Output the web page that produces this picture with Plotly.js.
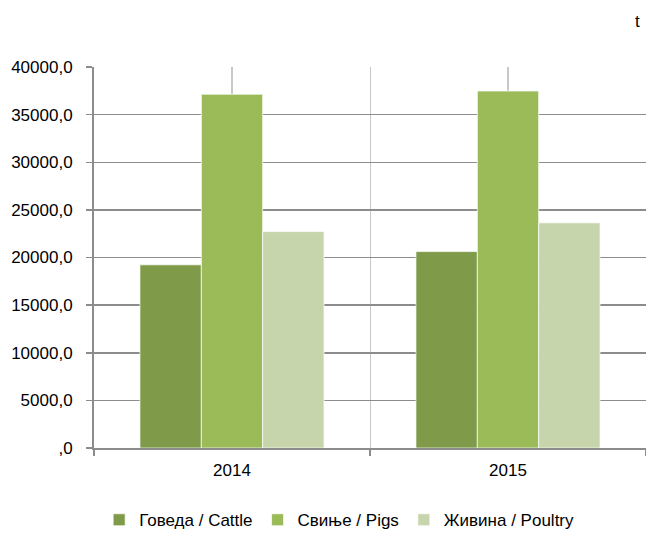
<!DOCTYPE html>
<html>
<head>
<meta charset="utf-8">
<script src="https://cdn.plot.ly/plotly-3.0.1.min.js"></script>
<style>html,body{margin:0;padding:0;background:#fff;}#chart{width:646px;height:533px;}</style>
</head>
<body>
<div id="chart"></div>
<script>
var years = ["2014", "2015"];
var cattle = [19230, 20620];
var pigs = [37140, 37480];
var poultry = [22720, 23640];
var seriesNames = ["Говеда / Cattle", "Свиње / Pigs", "Живина / Poultry"];
var yTickVals = [0, 5000, 10000, 15000, 20000, 25000, 30000, 35000, 40000];
var yTickText = [",0", "5000,0", "10000,0", "15000,0", "20000,0", "25000,0", "30000,0", "35000,0", "40000,0"];
var unitLabel = "t";

var colors = ["#7f9a48", "#9bbb59", "#c6d5ab"];
var seriesVals = [cattle, pigs, poultry];
var traces = seriesVals.map(function (v, i) {
  return {
    type: "bar", x: years, y: v, name: seriesNames[i],
    marker: {color: colors[i], line: {color: "rgba(255,255,255,0.7)", width: 1}},
    hoverinfo: "y"
  };
});
// invisible trace to anchor centre gridlines axis
traces.push({type: "bar", x: years, y: [0, 0], xaxis: "x2", yaxis: "y", showlegend: false, hoverinfo: "skip", marker: {color: "rgba(0,0,0,0)"}});

var font = {family: "Liberation Sans, Arial, sans-serif", size: 17, color: "#000"};
var layout = {
  width: 646, height: 533,
  margin: {l: 94, r: 0, t: 67, b: 85},
  paper_bgcolor: "#fff", plot_bgcolor: "#fff",
  font: font,
  barmode: "group", bargap: 0.333, bargroupgap: 0,
  showlegend: true,
  legend: {orientation: "h", xref: "container", yref: "container", x: 0.525, xanchor: "center", y: 0.024, yanchor: "middle", font: font, itemwidth: 30, tracegroupgap: 0},
  xaxis: {
    type: "category", range: [-0.5, 1.5], tickson: "boundaries",
    ticks: "outside", ticklen: 6, tickcolor: "#8c8c8c", tickwidth: 1.5,
    showline: true, linecolor: "#8c8c8c", linewidth: 2,
    showgrid: true, gridcolor: "#c8c8c8", gridwidth: 1,
    ticklabelstandoff: 6,
    tickfont: font, fixedrange: true
  },
  xaxis2: {
    type: "category", range: [-0.5, 1.5], overlaying: "x",
    showgrid: true, gridcolor: "#c8c8c8", gridwidth: 1.5,
    showticklabels: false, ticks: "", showline: false, fixedrange: true
  },
  yaxis: {
    range: [0, 40000], tickvals: yTickVals, ticktext: yTickText,
    ticks: "outside", ticklen: 6, tickcolor: "#8c8c8c", tickwidth: 1.5,
    showline: true, linecolor: "#8c8c8c", linewidth: 2,
    showgrid: true, gridcolor: "#8c8c8c", gridwidth: 1.5, zeroline: false,
    ticklabelstandoff: 10,
    tickfont: font, fixedrange: true
  },
  annotations: [{
    text: unitLabel, xref: "paper", yref: "paper", x: 0.985, y: 1.12,
    xanchor: "center", yanchor: "middle", showarrow: false, font: font
  }]
};
Plotly.newPlot("chart", traces, layout, {displayModeBar: false, staticPlot: true});
</script>
</body>
</html>
